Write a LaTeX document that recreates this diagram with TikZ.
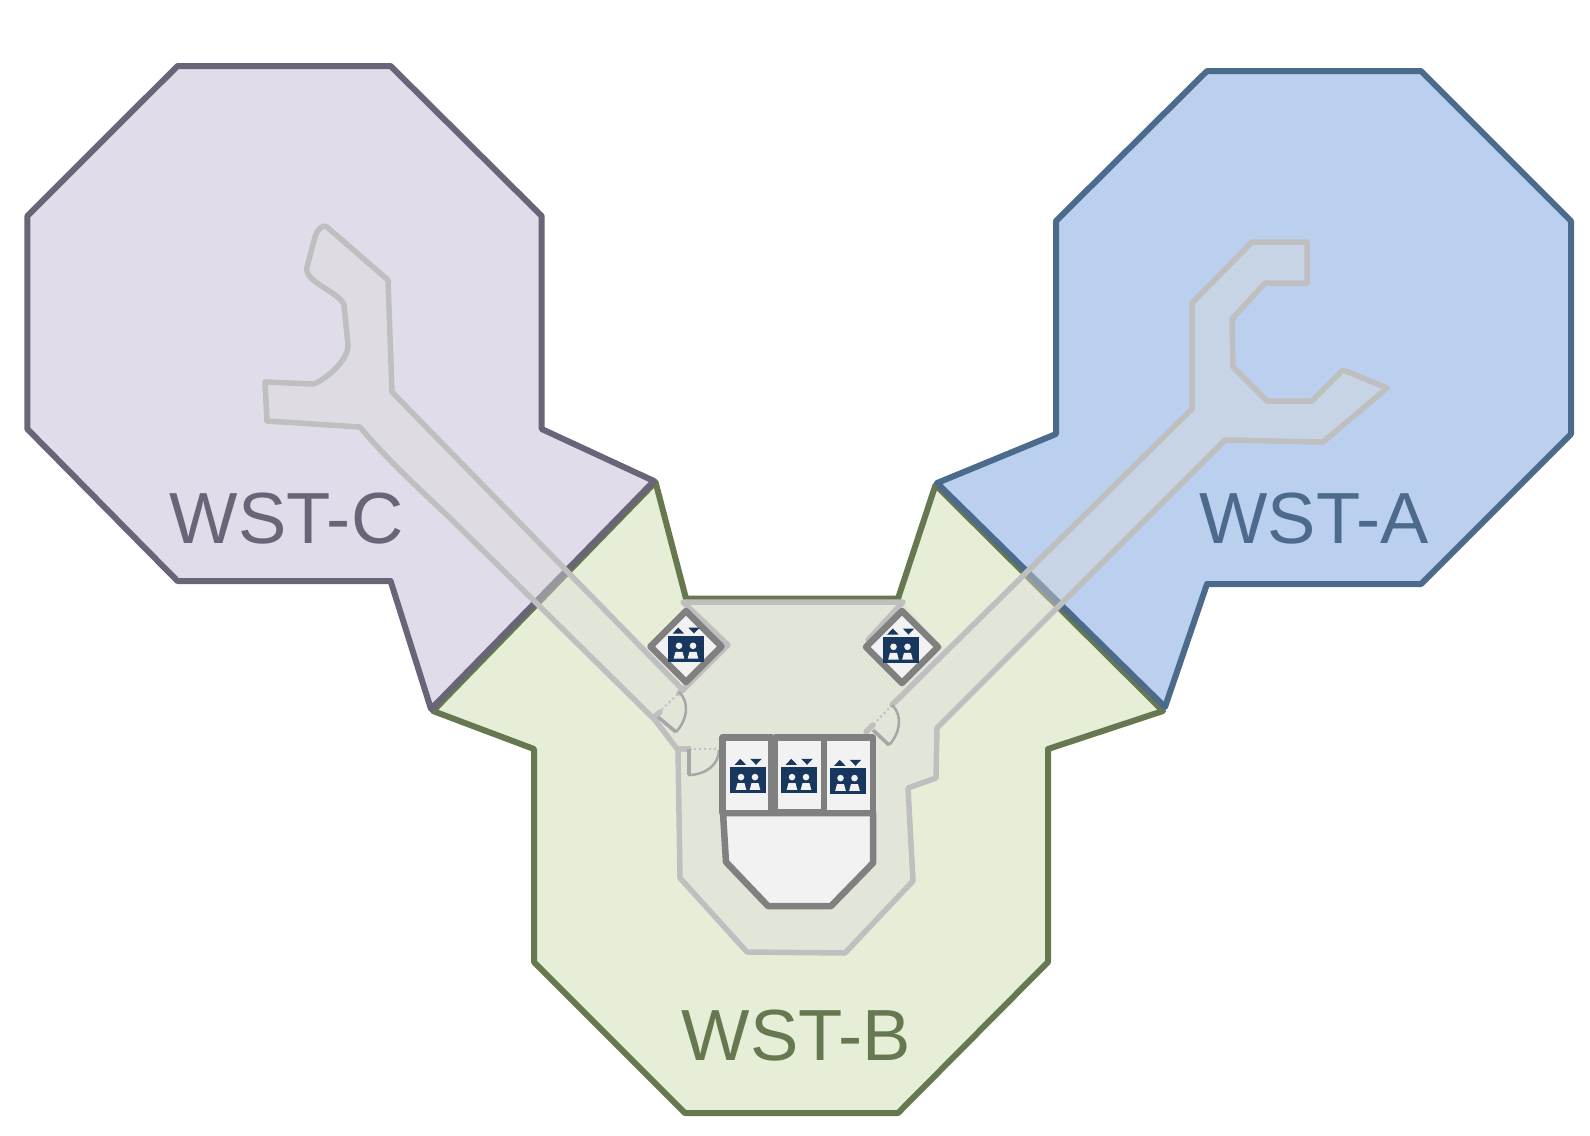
\documentclass[tikz,border=0pt]{standalone}
\usepackage{fontspec}
\setmainfont{Liberation Sans}
\definecolor{wstcfill}{HTML}{E1DCEA}
\definecolor{wstcline}{HTML}{6A6478}
\definecolor{wstafill}{HTML}{BAD0EE}
\definecolor{wstaline}{HTML}{4C6B8C}
\definecolor{wstbfill}{HTML}{E7EED8}
\definecolor{wstbline}{HTML}{667850}
\definecolor{wallgray}{HTML}{BFBFBF}
\definecolor{roomgray}{HTML}{808080}
\definecolor{doorgray}{HTML}{A6A6A6}
\definecolor{liftblue}{HTML}{17375E}
% the walkway, from the door by the left lift round to the right one
\newcommand{\walkwaypath}{(683,690) -- (392,392) -- (388,280) -- (327,227)
  .. controls (321,224) and (317,231) .. (315,237) -- (307,267)
  .. controls (303,282) and (340,292) .. (344,305) -- (348,345)
  .. controls (349,358) and (328,379) .. (313,384) -- (265,382) -- (267,421) -- (360,427)
  .. controls (380,452) and (420,490) .. (450,518) -- (655,720) -- (678,750)
  -- (680,878) -- (747,952) -- (845,953) -- (913,881) -- (908,788) -- (936,778) -- (937,728)
  -- (1225,440) -- (1323,442) -- (1387,388) -- (1343,370) -- (1312,401) -- (1267,401)
  -- (1233,367) -- (1232,319) -- (1265,283) -- (1307,283) -- (1307,242) -- (1252,242)
  -- (1192,303) -- (1192,409) -- (892,705)}
\tikzset{
  zone/.style={line width=0.06cm, line join=round},
  wall/.style={draw=wallgray, line width=0.055cm, line join=round, line cap=round},
  room/.style={draw=roomgray, fill=black!5, line width=0.065cm, line join=round},
  doorleaf/.style={draw=doorgray, line width=0.035cm},
  doorswing/.style={draw=doorgray, line width=0.025cm},
  doorgap/.style={draw=wallgray, line width=0.02cm, dash pattern=on 0.02cm off 0.03cm},
  zonelabel/.style={anchor=base, font=\fontsize{20.6}{24}\selectfont},
  lifticon/.pic={
    \fill[liftblue] (-18,-13) rectangle (18,13);
    \fill[liftblue] (-13.4,-15.5) -- (-2,-15.5) -- (-7.7,-21.5) -- cycle;
    \fill[liftblue] (2.3,-21.5) -- (13.7,-21.5) -- (8,-15.5) -- cycle;
    \foreach \dx in {-7,7} {
      \fill[black!5] (\dx,-3.2) circle[radius=3.3];
      \fill[black!5] (\dx-5.3,9.5) -- (\dx+5.3,9.5) -- (\dx+3.5,2.8) -- (\dx-3.5,2.8) -- cycle;
    }
  }
}
\begin{document}
\begin{tikzpicture}[x=0.01cm, y=-0.01cm]
  \useasboundingbox (0,0) rectangle (1590,1135);

  % WST-B
  \draw[zone, draw=wstbline, fill=wstbfill] (655.5,482) -- (686,598.5) -- (898,598.5) -- (935.5,485)
    -- (1163,711) -- (1048,749) -- (1048,962) -- (898,1113) -- (685,1113) -- (534,962) -- (534,749)
    -- (433,711) -- cycle;
  % WST-C
  \draw[zone, draw=wstcline, fill=wstcfill] (177.5,66) -- (390.6,66) -- (541.7,216) -- (541.7,429)
    -- (654,481) -- (431,709) -- (390.6,581) -- (177.5,581) -- (27.4,429) -- (27.4,216) -- cycle;
  % WST-A
  \draw[zone, draw=wstaline, fill=wstafill] (1207,71) -- (1421,71) -- (1571,221) -- (1571,434)
    -- (1421,584) -- (1207,584) -- (1165,707) -- (937,483) -- (1056,434) -- (1056,221) -- cycle;

  % walkway
  \fill[black!14, fill opacity=.42] \walkwaypath -- (955,643) -- (943,648) -- (903,602)
    -- (683,602) -- (728,645) -- cycle;
  \draw[wall] \walkwaypath;
  \draw[wall] (683,690) -- (728,645) -- (683,602) -- (903,602) -- (868,640) -- (880,650);
  \draw[wall] (679,693) -- (687,685);
  \draw[wall] (654,717) -- (660,712);
  \draw[wall] (678,749) -- (689,749);
  \draw[wall] (866,732) -- (873,725);

  % doors
  \draw[doorgap] (658,713) -- (680,692);
  \draw[doorleaf] (658,717) -- (676,732);
  \draw[doorswing] (676,732) .. controls (686,722) and (691,703) .. (679,692);
  \draw[doorgap] (689,749) -- (720,749);
  \draw[doorleaf] (689,749) -- (689,775);
  \draw[doorswing] (688,775) .. controls (705,775) and (719,765) .. (719,750);
  \draw[doorgap] (870,728) -- (892,705);
  \draw[doorleaf] (873,730) -- (889,745);
  \draw[doorswing] (889,745) .. controls (899,735) and (904,716) .. (892,705);

  % lower room and lift cabins
  \draw[room] (723,813) -- (726,862) -- (768,906) -- (831,906) -- (873,863) -- (873,813) -- cycle;
  \draw[room] (722.7,737.7) rectangle (771.7,813);
  \draw[room] (775,737.7) rectangle (824,812);
  \draw[room] (824,737.7) rectangle (873,813);
  \draw[room] (686,611) -- (721.5,646.5) -- (686,682) -- (650.5,646.5) -- cycle;
  \draw[room] (902,611) -- (938,647) -- (902,683) -- (866,647) -- cycle;

  % lift icons
  \foreach \ix/\iy in {686/649, 900.5/650, 748/780.3, 799/780.3, 847.5/781.3} {
    \pic at (\ix,\iy) {lifticon};
  }

  % labels
  \node[zonelabel, text=wstcline] (labelc) at (286.6,543) {WST-C};
  \node[zonelabel, text=wstaline] (labela) at (1314,543) {WST-A};
  \node[zonelabel, text=wstbline] (labelb) at (796.4,1060) {WST-B};
\end{tikzpicture}
\end{document}
